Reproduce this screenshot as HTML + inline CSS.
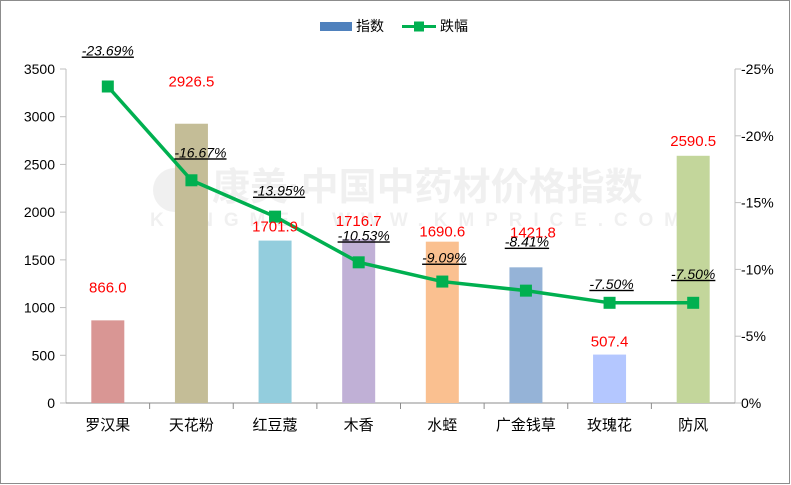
<!DOCTYPE html>
<html><head><meta charset="utf-8"><style>
body{margin:0;background:#fff}
svg{display:block;font-family:"Liberation Sans","Noto Sans CJK SC",sans-serif}
</style></head><body>
<svg id="c" width="791" height="485">
<rect x="0.5" y="0.5" width="789" height="483" fill="#fff" stroke="#8c8c8c"/>
<g opacity="0.1" font-weight="bold" fill="#777">
<circle cx="175" cy="190" r="22"/>
<text x="212" y="200" font-size="38">康美·中国中药材价格指数</text>
<text x="150" y="226" font-size="19" textLength="530" lengthAdjust="spacing">KANGMEI WWW.KMPRICE.COM</text>
</g>
<g>
<rect x="320" y="22" width="32" height="9" fill="#4f81bd"/>
<text x="356" y="31" font-size="14">指数</text>
<line x1="402" y1="26.5" x2="436" y2="26.5" stroke="#00b050" stroke-width="3"/>
<rect x="414" y="21.5" width="10" height="10" fill="#00b050"/>
<text x="440" y="31" font-size="14">跌幅</text>
</g>
<g id="plot"></g>
</svg>
<script>
const categories=["罗汉果","天花粉","红豆蔻","木香","水蛭","广金钱草","玫瑰花","防风"];
const indexValues=[866.0,2926.5,1701.9,1716.7,1690.6,1421.8,507.4,2590.5];
const dropValues=[-23.69,-16.67,-13.95,-10.53,-9.09,-8.41,-7.50,-7.50];
const leftTicks=[0,500,1000,1500,2000,2500,3000,3500];
const rightTicks=[0,-5,-10,-15,-20,-25];
const barColors=["#d99694","#c4bd97","#93cddd","#c0b0d6","#fac090","#95b3d7","#b4c7ff","#c3d69b"];
const valueLabelDy=[-33,-42,-14,-18,-10,-35,-13,-15];
const valueLabelDx=[0,0,0,0,0,7,0,0];
const pctLabelDy=[-36,-28,-26,-27,-24,-49,-19,-29];
const pctLabelDx=[0,9,4,5,2,1,2,0];

const L=66,R=735,B=403,T=69,NS="http://www.w3.org/2000/svg";
const g=document.getElementById('plot');
const yL=v=>B-(v/3500)*(B-T);
const yR=p=>B-(-p/25)*(B-T);
const bw=(R-L)/categories.length;
const xC=i=>L+bw*(i+0.5);
function el(t,a,txt){const e=document.createElementNS(NS,t);for(const k in a)e.setAttribute(k,a[k]);if(txt!=null)e.textContent=txt;g.appendChild(e);return e;}

let ax=el('line',{x1:L,y1:T,x2:L,y2:B,stroke:'#bfbfbf'});


ax=el('line',{x1:R,y1:T,x2:R,y2:B,stroke:'#bfbfbf'});


ax=el('line',{x1:L,y1:B,x2:R,y2:B,stroke:'#8c8c8c'});


leftTicks.forEach(v=>{
 el('line',{x1:L-6,y1:yL(v),x2:L,y2:yL(v),stroke:'#bfbfbf'});
 const t=el('text',{x:L-11,y:yL(v)+5,'font-size':14,'text-anchor':'end'},String(v));
 
 
});
rightTicks.forEach(v=>{
 el('line',{x1:R,y1:yR(v),x2:R+6,y2:yR(v),stroke:'#bfbfbf'});
 const t=el('text',{x:R+6,y:yR(v)+5,'font-size':14},v===0?'0%':v+'%');
 
 
});
for(let i=1;i<categories.length;i++)el('line',{x1:L+bw*i,y1:B,x2:L+bw*i,y2:B+6,stroke:'#8c8c8c'});
categories.forEach((c,i)=>{
 const b=el('rect',{x:xC(i)-16.5,y:yL(indexValues[i]),width:33,height:B-yL(indexValues[i]),fill:barColors[i]});
 
 
 const t=el('text',{x:xC(i),y:B+27,'font-size':15,'text-anchor':'middle'},c);
 
 
});
const pl=el('polyline',{points:dropValues.map((p,i)=>xC(i)+','+yR(p)).join(' '),fill:'none',stroke:'#00b050','stroke-width':3.5});


dropValues.forEach((p,i)=>{
 const m=el('rect',{x:xC(i)-6,y:yR(p)-6,width:12,height:12,fill:'#00b050'});
 
 
});
indexValues.forEach((v,i)=>{
 const t=el('text',{x:xC(i)+valueLabelDx[i],y:yL(v)+valueLabelDy[i]+5,'font-size':15,fill:'#ff0000','text-anchor':'middle'},v.toFixed(1));
 
 
});
dropValues.forEach((p,i)=>{
 const t=el('text',{x:xC(i)+pctLabelDx[i],y:yR(p)+pctLabelDy[i]+5,'font-size':14,'font-style':'italic','text-decoration':'underline','text-anchor':'middle'},p.toFixed(2)+'%');
 
 
});
</script>
</body></html>
